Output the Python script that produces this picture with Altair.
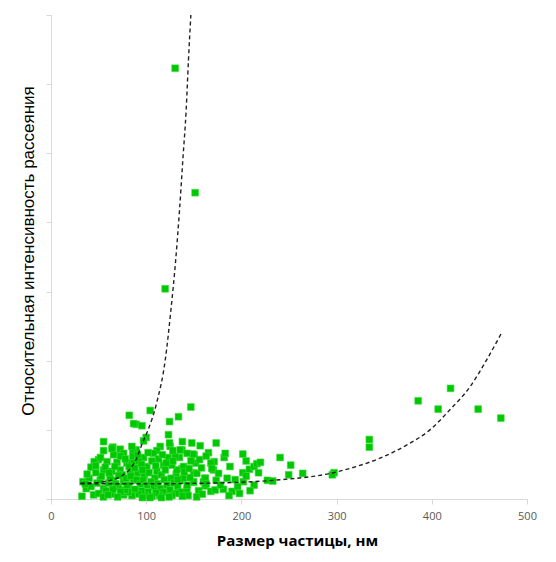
import altair as alt
import pandas as pd

# Scatter points: particle size (nm) and relative scattering intensity
size_nm = [
    130.4, 151.4, 119.9,
    82.2, 104.2, 146.9, 133.9, 124.5, 89.5, 95.5, 86.7,
    100, 123.4, 97.2, 55.2, 55.2, 89.5, 65, 72.7, 76.2, 86,
    147.9, 156.7, 173.5, 165.4, 150.4, 181.9, 201.5, 171.4, 167.9, 170.6, 149.7, 149.7,
    161.9, 160.1, 173.5, 161.9, 167.9, 172.4, 181.1, 190.2, 193.4, 201.5, 202.1, 208.4,
    213.3, 216.2, 213.3, 209.1, 141.3,
    227.3, 232.9, 240.6, 251.8, 249.7, 264.4, 297.3, 295.5,
    334.4, 334.4, 385.7, 419.7, 406.7, 448.7, 472.5,
    114.7, 111.2, 125.2, 137.5, 149, 134.9, 107.7, 97.2, 86, 118.2, 137.5, 131.5, 111.2, 100.7, 90.9,
    49.9, 45.4, 42, 65.7, 58.8, 69.3, 79.7, 55.2, 64, 72.7, 83.2, 33.6, 32.5, 48.3, 51.7,
    55.2, 60.4, 65.7, 70.9, 76.2, 81.4, 86.7, 44.7, 64, 76.2,
    168.9, 161.9, 153.2, 149.7, 142.7, 135.7, 132.2, 139.2, 127, 130.5, 135.7, 124.5,
    73, 78, 82, 88, 92, 95, 98, 103, 106, 109, 113, 116, 120, 123, 126, 128,
    75, 79, 84, 90, 94, 97, 101, 105, 108, 112, 115, 119, 122, 125, 129, 133, 136, 139, 143, 146,
    144, 138, 131, 127, 118, 114, 110, 106, 102, 99, 95, 92, 88, 85, 81, 78, 73, 70, 68, 62,
    58, 53, 50, 47, 40, 37, 42, 57, 61, 67, 71, 86, 91, 102, 117, 121, 110, 96, 80, 65,
    55, 60, 104, 116, 124, 96, 133, 140, 145, 152, 156, 158, 155, 153, 159, 163, 178, 185,
    187, 196, 198, 205, 220, 218, 205, 188, 176, 183, 163, 147, 143, 138, 128, 64, 85, 52,
    38, 36, 47,
]
intensity = [
    6.23, 4.43, 3.04,
    1.21, 1.28, 1.33, 1.19, 1.12, 1.08, 1.06, 1.09,
    0.89, 0.93, 0.84, 0.83, 0.70, 0.71, 0.75, 0.72, 0.66, 0.71,
    0.81, 0.77, 0.81, 0.67, 0.64, 0.60, 0.65, 0.54, 0.52, 0.42, 0.38, 0.24,
    0.30, 0.25, 0.27, 0.19, 0.11, 0.13, 0.14, 0.11, 0.28, 0.38, 0.25, 0.43,
    0.47, 0.51, 0.20, 0.12, 0.08,
    0.27, 0.26, 0.60, 0.49, 0.35, 0.37, 0.38, 0.35,
    0.86, 0.75, 1.42, 1.60, 1.30, 1.30, 1.17,
    0.76, 0.70, 0.76, 0.71, 0.65, 0.60, 0.66, 0.60, 0.54, 0.49, 0.44, 0.36, 0.40, 0.47, 0.38,
    0.57, 0.54, 0.46, 0.64, 0.54, 0.53, 0.52, 0.42, 0.40, 0.42, 0.40, 0.25, 0.04, 0.23, 0.27,
    0.15, 0.23, 0.27, 0.17, 0.25, 0.17, 0.27, 0.06, 0.07, 0.06,
    0.44, 0.30, 0.37, 0.25, 0.13, 0.27, 0.42, 0.47, 0.49, 0.61, 0.71, 0.81,
    0.62, 0.58, 0.47, 0.45, 0.55, 0.50, 0.35, 0.38, 0.55, 0.30, 0.58, 0.35, 0.42, 0.60, 0.30, 0.55,
    0.35, 0.30, 0.33, 0.28, 0.22, 0.27, 0.20, 0.25, 0.18, 0.22, 0.15, 0.28, 0.20, 0.13, 0.23, 0.18, 0.10, 0.30, 0.20, 0.31,
    0.05, 0.04, 0.08, 0.05, 0.10, 0.05, 0.09, 0.04, 0.10, 0.05, 0.12, 0.07, 0.14, 0.05, 0.10, 0.13, 0.10, 0.03, 0.22, 0.30,
    0.12, 0.33, 0.08, 0.38, 0.30, 0.15, 0.18, 0.46, 0.38, 0.47, 0.34, 0.62, 0.64, 0.67, 0.64, 0.52, 0.48, 0.42, 0.20, 0.14,
    0.03, 0.06, 0.02, 0.02, 0.03, 0.02, 0.28, 0.39, 0.44, 0.52, 0.57, 0.45, 0.12, 0.03, 0.07, 0.22, 0.20, 0.30,
    0.05, 0.18, 0.08, 0.33, 0.53, 0.38, 0.55, 0.47, 0.37, 0.66, 0.62, 0.55, 0.66, 0.83, 0.70, 0.73, 0.76, 0.60,
    0.36, 0.22, 0.48,
]

# Trend curves
curve1_x = [31, 50, 65, 75, 85, 90, 96, 102, 111, 120, 126, 131, 135, 138.5, 142, 144.4, 146.9]
curve1_y = [0.23, 0.24, 0.28, 0.34, 0.47, 0.59, 0.81, 1.00, 1.39, 2.01, 2.74, 3.46, 4.18, 4.91, 5.63, 6.35, 7.0]
curve2_x = [31, 100, 167, 233, 296.5, 320.8, 345.5, 373.5, 398, 419, 440, 457.5, 473.2]
curve2_y = [0.22, 0.22, 0.23, 0.27, 0.38, 0.47, 0.59, 0.78, 1.00, 1.29, 1.62, 2.01, 2.40]

x_ticks = [0, 100, 200, 300, 400, 500]
y_ticks = [0, 1, 2, 3, 4, 5, 6, 7]

n = min(len(size_nm), len(intensity))
pts = pd.DataFrame({"x": size_nm[:n], "y": intensity[:n]})
curves = pd.concat([
    pd.DataFrame({"x": curve1_x, "y": curve1_y, "c": "a"}),
    pd.DataFrame({"x": curve2_x, "y": curve2_y, "c": "b"}),
])

FONT = "Open Sans"
xs = alt.Scale(domain=[0, 500], nice=False)
ys = alt.Scale(domain=[0, 7], nice=False)

xaxis = alt.Axis(values=x_ticks, grid=False, domainColor="#d9d9d9", tickColor="#d9d9d9",
                 tickSize=5, labelColor="#595959", labelFont=FONT, labelFontSize=11,
                 labelPadding=6, labelFlush=False, title="Размер частицы, нм", titleFont=FONT,
                 titleFontSize=15, titleFontWeight="bold", titleColor="#000000",
                 titleX=246, titleY=41, titleBaseline="middle", titleAlign="center")
yaxis = alt.Axis(values=y_ticks, grid=False, labels=False, domainColor="#d9d9d9",
                 tickColor="#d9d9d9", tickSize=5,
                 title="Относительная интенсивность рассеяния", titleFont="Liberation Sans",
                 titleFontSize=17, titleFontWeight="normal", titleColor="#000000",
                 titleX=-23, titleY=235.5, titleAngle=270, titleBaseline="middle",
                 titleAlign="center")

scatter = alt.Chart(pts).mark_square(size=46, color="#00c800", opacity=1,
                                     stroke="#40dc40", strokeWidth=0.6).encode(
    x=alt.X("x:Q", scale=xs, axis=xaxis),
    y=alt.Y("y:Q", scale=ys, axis=yaxis),
)

lines = alt.Chart(curves).mark_line(color="#222222", strokeWidth=1.4,
                                    strokeDash=[4, 3], interpolate="monotone").encode(
    x=alt.X("x:Q", scale=xs),
    y=alt.Y("y:Q", scale=ys),
    detail="c:N",
)

chart = alt.layer(scatter, lines).properties(
    width=476, height=484,
    autosize=alt.AutoSizeParams(type="none"),
    padding={"left": 43, "top": 7, "right": 20, "bottom": 50},
).configure_view(stroke=None)

chart.save("out.html", embed_options={"renderer": "svg", "actions": False})
